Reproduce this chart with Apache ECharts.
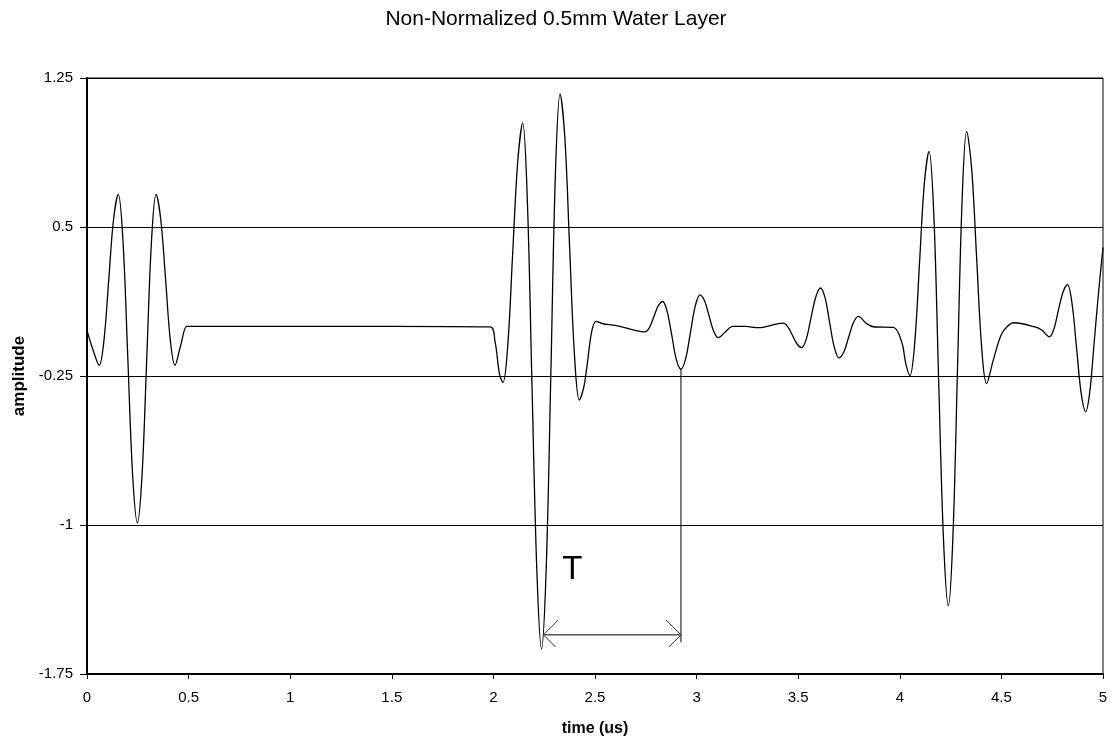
<!DOCTYPE html>
<html>
<head>
<meta charset="utf-8">
<title>Non-Normalized 0.5mm Water Layer</title>
<script src="https://cdn.jsdelivr.net/npm/echarts@6/dist/echarts.min.js"></script>
<style>
  html, body { margin: 0; padding: 0; background: #fff; }
  #chart { width: 1112px; height: 742px; }
</style>
</head>
<body>
<div id="chart"></div>
<script>
// Received waveform through a 0.5 mm water layer, as [time (us), amplitude] pairs.

// Front-face echo
const firstEcho = [
  [0.000, -0.020], [0.030, -0.120], [0.060, -0.196], [0.0835, -0.070], [0.107, 0.234], [0.1305, 0.538],
  [0.154, 0.664], [0.1775, 0.422], [0.201, -0.163], [0.2245, -0.747], [0.248, -0.989], [0.271, -0.747],
  [0.294, -0.163], [0.317, 0.422], [0.340, 0.664], [0.363, 0.538], [0.387, 0.234], [0.410, -0.070],
  [0.433, -0.196], [0.460, -0.100], [0.490, 0.000]
];

// Quiet interval before the layer echoes
const quietGap = [
  [0.500, 0.000], [1.000, 0.000], [1.500, 0.000], [1.983, -0.003]
];

// Overlapping echoes from the water layer
const layerEcho = [
  [2.008, -0.076], [2.030, -0.240], [2.047, -0.283], [2.071, -0.092], [2.095, 0.370], [2.120, 0.832],
  [2.144, 1.023], [2.167, 0.635], [2.190, -0.300], [2.214, -1.235], [2.237, -1.623], [2.260, -1.214],
  [2.283, -0.227], [2.305, 0.761], [2.328, 1.170], [2.352, 0.944], [2.375, 0.400], [2.399, -0.145],
  [2.423, -0.371], [2.444, -0.310], [2.459, -0.213], [2.483, -0.030], [2.505, 0.025], [2.540, 0.013],
  [2.600, 0.005], [2.697, -0.020], [2.746, -0.028], [2.768, -0.006], [2.790, 0.049], [2.811, 0.103],
  [2.833, 0.125], [2.855, 0.075], [2.878, -0.046], [2.900, -0.166], [2.923, -0.216], [2.9465, -0.161],
  [2.970, -0.029], [2.9935, 0.103], [3.017, 0.158], [3.0395, 0.127], [3.062, 0.051], [3.0845, -0.026],
  [3.107, -0.057], [3.140, -0.030], [3.178, 0.000], [3.240, 0.000], [3.304, -0.007], [3.427, 0.016]
];

// Reverberation between the echoes
const reverberation = [
  [3.4495, -0.003], [3.472, -0.046], [3.4945, -0.089], [3.517, -0.107], [3.540, -0.063], [3.563, 0.043],
  [3.587, 0.149], [3.610, 0.193], [3.633, 0.141], [3.655, 0.017], [3.678, -0.107], [3.701, -0.159],
  [3.725, -0.128], [3.748, -0.055], [3.772, 0.019], [3.796, 0.050], [3.835, 0.015], [3.870, -0.002],
  [3.968, -0.005]
];

// Back-wall echo and its tail
const backEcho = [
  [4.009, -0.077], [4.030, -0.190], [4.050, -0.248], [4.0735, -0.083], [4.097, 0.317], [4.1205, 0.716],
  [4.144, 0.881], [4.168, 0.546], [4.191, -0.263], [4.215, -1.071], [4.239, -1.406], [4.2615, -1.056],
  [4.284, -0.213], [4.3065, 0.631], [4.329, 0.981], [4.3535, 0.795], [4.378, 0.347], [4.4025, -0.102],
  [4.427, -0.288], [4.460, -0.170], [4.499, -0.042], [4.530, 0.000], [4.560, 0.018], [4.665, -0.003],
  [4.700, -0.020], [4.736, -0.053], [4.758, -0.015], [4.780, 0.079], [4.803, 0.172], [4.825, 0.210],
  [4.8475, 0.116], [4.870, -0.110], [4.8925, -0.336], [4.915, -0.429], [4.935, -0.330], [4.955, -0.100],
  [4.978, 0.170], [5.000, 0.397]
];

// Axis ranges and tick steps
const xRange = [0, 5];
const xStep = 0.5;
const yRange = [-1.75, 1.25];
const yStep = 0.75;

// Period marker "T": from the deepest trough to the next trough
const periodSpan = [2.246, 2.923];
const periodLevel = -1.553;
const periodLineTop = -0.216;
const periodLineFoot = -1.59;
const periodLabel = 'T';
const periodLabelAt = [2.388, -1.226];

const FONT = '"Liberation Sans", Arial, sans-serif';

const waveData = [].concat(firstEcho, quietGap, layerEcho, reverberation, backEcho);

const chart = echarts.init(document.getElementById('chart'), null, { renderer: 'canvas' });

chart.setOption({
  animation: false,
  backgroundColor: '#ffffff',
  title: {
    text: 'Non-Normalized 0.5mm Water Layer',
    left: 'center',
    top: 4,
    textStyle: { fontFamily: FONT, fontSize: 21, fontWeight: 'normal', color: '#000' }
  },
  grid: {
    left: 87, top: 78, width: 1016, height: 599,
    show: true, borderColor: '#000', borderWidth: 1, backgroundColor: 'transparent'
  },
  xAxis: {
    type: 'value',
    min: xRange[0], max: xRange[1], interval: xStep,
    name: 'time (us)',
    nameLocation: 'middle',
    nameGap: 47,
    nameTextStyle: { fontFamily: FONT, fontSize: 16, fontWeight: 'bold', color: '#000' },
    axisLine: { show: true, onZero: false, lineStyle: { color: '#000', width: 2 } },
    axisTick: { show: true, length: 5, lineStyle: { color: '#000', width: 1 } },
    axisLabel: { margin: 16, fontFamily: FONT, fontSize: 15, color: '#000' },
    splitLine: { show: false }
  },
  yAxis: {
    type: 'value',
    min: yRange[0], max: yRange[1], interval: yStep,
    name: 'amplitude',
    nameLocation: 'middle',
    nameRotate: 90,
    nameGap: 59,
    nameTextStyle: { fontFamily: FONT, fontSize: 17, fontWeight: 'bold', color: '#000' },
    axisLine: { show: true, onZero: false, lineStyle: { color: '#000', width: 2 } },
    axisTick: { show: true, length: 7, lineStyle: { color: '#000', width: 1 } },
    axisLabel: { margin: 14, fontFamily: FONT, fontSize: 15, color: '#000' },
    splitLine: { show: true, lineStyle: { color: '#000', width: 1 } }
  },
  series: [
    {
      type: 'line',
      data: waveData,
      smooth: 0.35,
      showSymbol: false,
      lineStyle: { color: '#000', width: 1.3 },
      z: 3
    },
    {
      // Period marker: vertical drop line, double-headed arrow and label
      type: 'custom',
      data: [[periodSpan[0], periodLevel]],
      z: 4,
      renderItem: function (params, api) {
        const a = api.coord([periodSpan[0], periodLevel]);
        const b = api.coord([periodSpan[1], periodLevel]);
        const top = api.coord([periodSpan[1], periodLineTop]);
        const foot = api.coord([periodSpan[1], periodLineFoot]);
        const lp = api.coord(periodLabelAt);
        const head = 15;
        const stroke = { stroke: '#000', lineWidth: 1, fill: null };
        return {
          type: 'group',
          children: [
            { type: 'line', shape: { x1: top[0], y1: top[1], x2: foot[0], y2: foot[1] }, style: stroke },
            { type: 'line', shape: { x1: a[0], y1: a[1], x2: b[0], y2: b[1] }, style: stroke },
            { type: 'polyline', shape: { points: [[a[0] + head, a[1] - head], [a[0], a[1]], [a[0] + head * 0.8, a[1] + head * 0.8]] },
              style: { stroke: '#333', lineWidth: 1, fill: null } },
            { type: 'polyline', shape: { points: [[b[0] - head, b[1] - head], [b[0], b[1]], [b[0] - head * 0.8, b[1] + head * 0.8]] },
              style: { stroke: '#333', lineWidth: 1, fill: null } },
            { type: 'text', x: lp[0], y: lp[1],
              style: { text: periodLabel, fontFamily: FONT, fontSize: 33, fill: '#000', align: 'center', verticalAlign: 'middle' } }
          ]
        };
      }
    }
  ]
});
</script>
</body>
</html>
